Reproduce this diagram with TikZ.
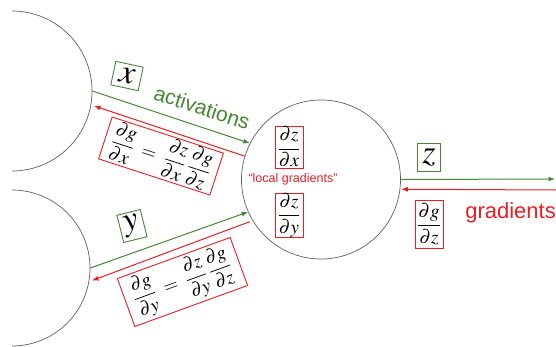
\documentclass[tikz,border=0pt]{standalone}
\usepackage{mathptmx}
\usepackage{fontspec}
\setsansfont{Liberation Sans}
\usetikzlibrary{arrows.meta}
\definecolor{vert}{RGB}{70,135,50}
\definecolor{rouge}{RGB}{235,30,35}
\definecolor{gris}{RGB}{95,95,95}
\begin{document}
\begin{tikzpicture}[x=1pt,y=1pt]
\tikzset{neurone/.style={draw=gris, circle, inner sep=0pt, line width=0.7pt},
boitev/.style={draw=vert, line width=0.9pt, inner sep=0pt, font=\fontsize{34}{34}\selectfont},
boiter/.style={draw=rouge, line width=0.9pt, inner sep=0pt, font=\fontsize{19}{22}\selectfont},
fleche/.style={line width=1pt, -{Latex[length=6.5pt,width=5pt]}},
texte/.style={inner sep=0pt, font=\sffamily\fontsize{21}{24}\selectfont}}
\useasboundingbox (0,0) rectangle (556,346);
\clip (12,0) rectangle (556,346);
\node[neurone, minimum size=160pt] (C1) at (12,255) {};
\node[neurone, minimum size=156pt] (C2) at (12,78) {};
\node[neurone, minimum size=159pt] (C3) at (321,166.5) {};
\coordinate (S1) at (555,167);
\coordinate (S2) at (556,156);
\draw[fleche, vert] (C1.0) -- (C3.153);
\draw[fleche, rouge, shorten >=3pt] (C3.163) -- (C1.-10);
\draw[fleche, vert] (C2.0) -- (C3.204);
\draw[fleche, rouge, shorten <=3pt, shorten >=3pt] (C3.211) -- (C2.-10);
\draw[fleche, vert] (C3.0) -- (S1);
\draw[fleche, rouge, shorten >=1pt] (S2) -- (C3.-7);
\node[boitev, rotate=-12, minimum width=28pt, minimum height=24pt] (Lx) at (127,270) {$x$};
\node[texte, text=vert, rotate=-18] (A) at (202,238.5) {activations};
\node[boiter, rotate=-18, minimum width=117pt, minimum height=44pt] (Ex) at (161,190)
  {$\displaystyle\frac{\partial g}{\partial x}\;=\;\frac{\partial z}{\partial x}\,\frac{\partial g}{\partial z}$};
\node[boitev, rotate=14, minimum width=24pt, minimum height=28pt] (Ly) at (132,120) {$y$};
\node[boiter, rotate=20, minimum width=120pt, minimum height=51pt] (Ey) at (182.5,64)
  {$\displaystyle\frac{\partial g}{\partial y}\;=\;\frac{\partial z}{\partial y}\,\frac{\partial g}{\partial z}$};
\node[boiter, minimum width=28pt, minimum height=42pt] (Dx) at (289,199) {$\displaystyle\frac{\partial z}{\partial x}$};
\node[boiter, minimum width=28pt, minimum height=43pt] (Dy) at (289,131) {$\displaystyle\frac{\partial z}{\partial y}$};
\node[texte, text=rouge, font=\sffamily\fontsize{12.5}{14}\selectfont] (L) at (293,167) {“local gradients”};
\node[boitev, minimum width=23pt, minimum height=28pt] (Lz) at (429,189) {$z$};
\node[boiter, minimum width=28pt, minimum height=48pt] (Gz) at (429,122) {$\displaystyle\frac{\partial g}{\partial z}$};
\node[texte, text=rouge, anchor=base east, font=\sffamily\fontsize{22}{26}\selectfont] (G) at (556,128) {gradients};
\end{tikzpicture}
\end{document}
